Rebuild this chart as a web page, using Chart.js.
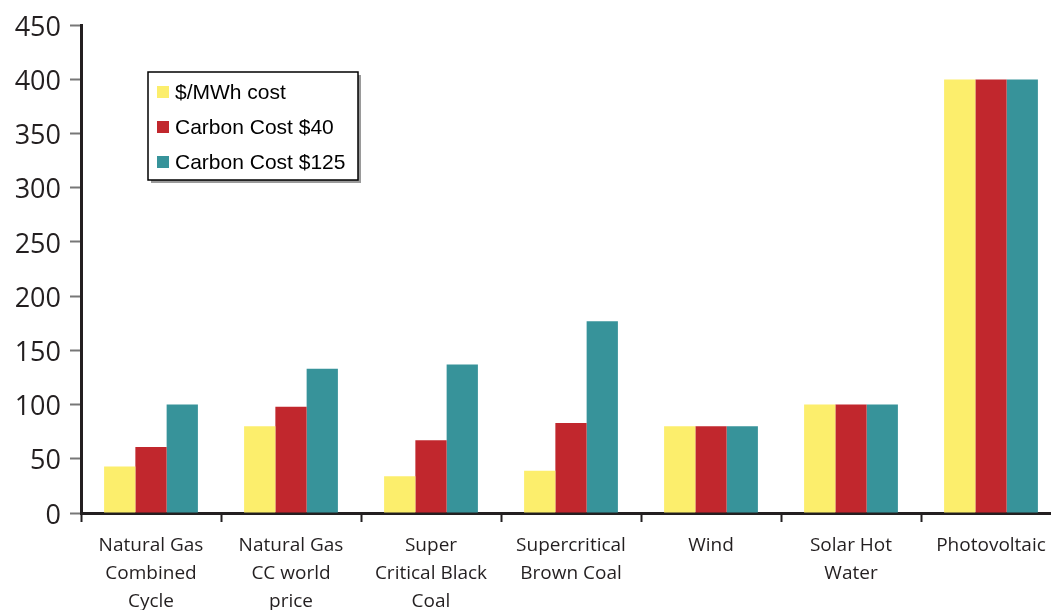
<!DOCTYPE html>
<html>
<head>
<meta charset="utf-8">
<script src="https://cdn.jsdelivr.net/npm/chart.js@4/dist/chart.umd.min.js"></script>
<style>
  html, body { margin: 0; padding: 0; background: #fff; overflow: hidden; }
  #wrap { width: 1065px; height: 610px; }
</style>
</head>
<body>
<div id="wrap"><canvas id="myChart" width="1065" height="610"></canvas></div>
<script>
const categories = [
    ['Natural Gas', 'Combined', 'Cycle'],
    ['Natural Gas', 'CC world', 'price'],
    ['Super', 'Critical Black', 'Coal'],
    ['Supercritical', 'Brown Coal'],
    ['Wind'],
    ['Solar Hot', 'Water'],
    ['Photovoltaic']
];
const seriesNames = ['$/MWh cost', 'Carbon Cost $40', 'Carbon Cost $125'];
const mwhCost = [43, 80, 34, 39, 80, 100, 400];
const carbon40 = [61, 98, 67, 83, 80, 100, 400];
const carbon125 = [100, 133, 137, 177, 80, 100, 400];
const seriesColors = ['#fcee6c', '#c1272d', '#37939a'];
const ink = '#231f20';

// legend drawn as a boxed panel inside the plot
const boxLegend = {
    id: 'boxLegend',
    afterDraw(chart) {
        const c = chart.ctx;
        const x = 148, y = 72, w = 210, h = 108;
        c.save();
        c.fillStyle = '#9a9a9a';
        c.fillRect(x + 3, y + 3, w, h);
        c.fillStyle = '#fff';
        c.fillRect(x, y, w, h);
        c.strokeStyle = '#000';
        c.lineWidth = 1.5;
        c.strokeRect(x, y, w, h);
        c.font = '21px "Liberation Sans", Arial, sans-serif';
        c.textBaseline = 'middle';
        chart.data.datasets.forEach((ds, i) => {
            const cy = y + 20 + i * 35;
            c.fillStyle = ds.backgroundColor;
            c.fillRect(x + 9, cy - 6, 12, 12);
            c.fillStyle = '#000';
            c.fillText(ds.label, x + 27, cy + 1);
        });
        c.restore();
    }
};

const ctx = document.getElementById('myChart').getContext('2d');

const myChart = new Chart(ctx, {
    type: 'bar',
    data: {
        labels: categories,
        datasets: [mwhCost, carbon40, carbon125].map((vals, i) => ({
            label: seriesNames[i],
            data: vals,
            backgroundColor: seriesColors[i],
            borderWidth: 0,
            categoryPercentage: 0.67,
            barPercentage: 1.0
        }))
    },
    options: {
        responsive: false,
        animation: false,
        layout: {
            padding: { top: 24, right: 4, left: 0, bottom: 0 }
        },
        scales: {
            x: {
                afterFit(scale) { scale.height = 97; },
                grid: {
                    offset: true,
                    drawOnChartArea: false,
                    drawTicks: true,
                    tickLength: 9,
                    tickColor: ink,
                    tickWidth: 2
                },
                border: { display: true, color: ink, width: 3 },
                ticks: {
                    color: ink,
                    maxRotation: 0,
                    autoSkip: false,
                    padding: 10,
                    font: { family: '"Open Sans", sans-serif', size: 19, lineHeight: 1.46 }
                }
            },
            y: {
                min: 0,
                max: 450,
                afterFit(scale) { scale.width = 81; },
                grid: {
                    drawOnChartArea: false,
                    drawTicks: true,
                    tickLength: 11,
                    tickColor: '#777',
                    tickWidth: 2
                },
                border: { display: true, color: ink, width: 3 },
                ticks: {
                    stepSize: 50,
                    color: ink,
                    padding: 9,
                    labelOffset: 3,
                    font: { family: '"Open Sans", sans-serif', size: 27 }
                }
            }
        },
        plugins: {
            legend: { display: false },
            tooltip: { enabled: false }
        }
    },
    plugins: [boxLegend]
});
</script>
</body>
</html>
